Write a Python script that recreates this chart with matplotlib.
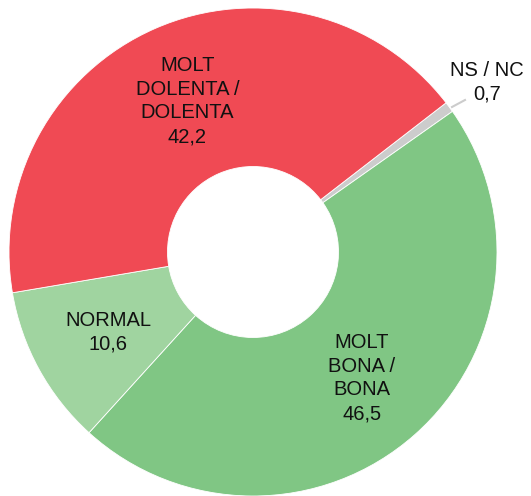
import matplotlib.pyplot as plt

# data (clockwise from the top right)
labels = ["NS / NC", "MOLT\nBONA /\nBONA", "NORMAL", "MOLT\nDOLENTA /\nDOLENTA"]
values = [0.7, 46.5, 10.6, 42.2]
colors = ["#CCCCCC", "#80C684", "#A0D4A0", "#F04A54"]

plt.rcParams['font.family'] = ['Liberation Sans', 'DejaVu Sans']

W, H = 531, 496
cx, cy, R = 253, 252, 244  # pixel centre / radius of the ring

fig = plt.figure(figsize=(W / 100, H / 100), dpi=100)
ax = fig.add_axes([(cx - R) / W, (H - cy - R) / H, 2 * R / W, 2 * R / H])

ax.pie(values, colors=colors, startangle=37.7, counterclock=False, radius=1,
       wedgeprops=dict(width=1 - 85.5 / R, edgecolor='white', linewidth=0.6))
ax.set_xlim(-1, 1)
ax.set_ylim(-1, 1)
ax.set_aspect('auto')
ax.axis('off')

def fmt(v):
    return f"{v:.1f}".replace('.', ',')

def px(x, y):
    return (x - cx) / R, (cy - y) / R

# label centres, read in pixels off the picture
pos = [(487, 82.5), (362, 378), (108.5, 332.5), (187.5, 101)]
for lab, v, p in zip(labels, values, pos):
    x, y = px(*p)
    ax.text(x, y, lab + "\n" + fmt(v), ha='center', va='center',
            fontsize=14.5, linespacing=1.32, color='#111111')

# leader line for the small slice
(x0, y0), (x1, y1) = px(452, 107), px(465, 100)
ax.plot([x0, x1], [y0, y1], color='#CCCCCC', lw=1.5)

fig.savefig("out.png", dpi=100)
